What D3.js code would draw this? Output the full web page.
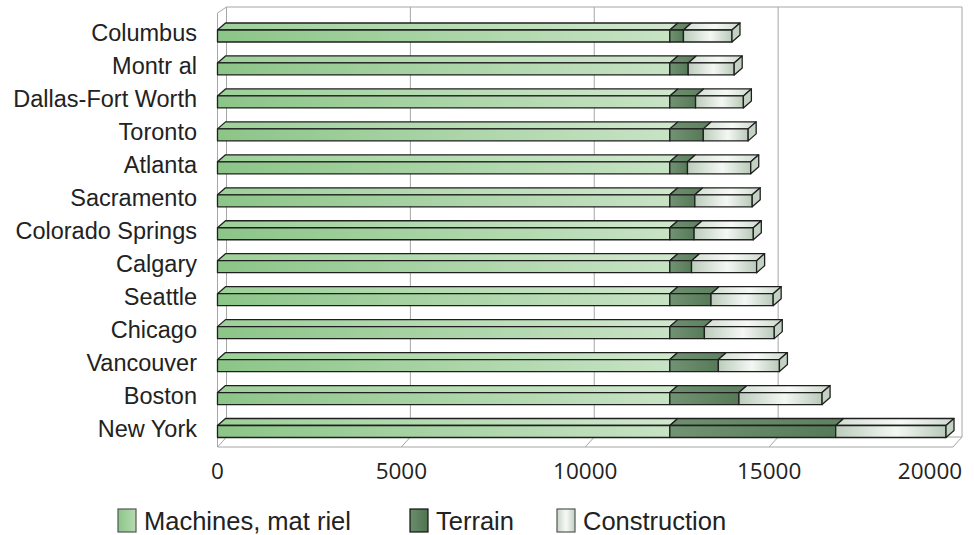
<!DOCTYPE html>
<html>
<head>
<meta charset="utf-8">
<script src="https://cdn.jsdelivr.net/npm/d3@7"></script>
<style>
  html, body { margin: 0; padding: 0; background: #fff; }
  svg { display: block; }
</style>
</head>
<body>
<svg id="chart" width="974" height="535"></svg>
<script>
// Cities, top to bottom
const categories = ["Columbus", "Montr al ", "Dallas-Fort Worth", "Toronto", "Atlanta",
  "Sacramento", "Colorado Springs", "Calgary", "Seattle", "Chicago",
  "Vancouver", "Boston", "New York"];

// Stacked components per city
const machines     = [12300, 12300, 12300, 12300, 12300, 12300, 12300, 12300, 12300, 12300, 12300, 12300, 12300];
const terrain      = [370, 500, 700, 910, 480, 680, 660, 590, 1120, 940, 1320, 1880, 4510];
const construction = [1320, 1250, 1300, 1220, 1720, 1560, 1610, 1770, 1690, 1900, 1660, 2260, 3000];

const seriesNames = ["Machines, mat riel", "Terrain", "Construction"];
const seriesKeys = ["machines", "terrain", "construction"];
const tickValues = [0, 5000, 10000, 15000, 20000];

const svg = d3.select("#chart");
const defs = svg.append("defs");

function grad(id, stops) {
  const g = defs.append("linearGradient").attr("id", id)
    .attr("x1", "0%").attr("x2", "100%").attr("y1", "0%").attr("y2", "0%");
  stops.forEach(s => g.append("stop").attr("offset", s[0]).attr("stop-color", s[1]));
}
grad("machFront", [["0%", "#8cc588"], ["100%", "#c7e3c4"]]);
grad("machTop",   [["0%", "#9dd099"], ["100%", "#d0e8cd"]]);
grad("terrFront", [["0%", "#729373"], ["100%", "#567a58"]]);
grad("terrTop",   [["0%", "#6d8f6d"], ["100%", "#5e815f"]]);
grad("consFront", [["0%", "#bccdbc"], ["55%", "#f4f7f4"], ["100%", "#b9cab9"]]);
grad("consTop",   [["0%", "#d3dfd3"], ["55%", "#f6f9f6"], ["100%", "#ccd9cc"]]);
grad("legMach",   [["0%", "#8cc588"], ["100%", "#b6dab2"]]);
grad("legTerr",   [["0%", "#6b8d6b"], ["100%", "#4f7351"]]);
grad("legCons",   [["0%", "#c6d5c6"], ["50%", "#f7faf7"], ["100%", "#c0d0c0"]]);

const fills = {
  machines:     { front: "url(#machFront)", top: "url(#machTop)", side: "#b4d9b0" },
  terrain:      { front: "url(#terrFront)", top: "url(#terrTop)", side: "#5c7f5c" },
  construction: { front: "url(#consFront)", top: "url(#consTop)", side: "#c3d2c3" }
};
const legendFills = ["url(#legMach)", "url(#legTerr)", "url(#legCons)"];

// Front-plane value scale and row positions
const x = d3.scaleLinear().domain([0, 20000]).range([217.5, 953]);
const y = d3.scalePoint().domain(categories).range([36, 431.5]);

// Depth offsets for the 3D look
const wallDX = 9, wallDY = -10;
const barDX = 8, barDY = -7;
const faceH = 12;
const floorY = 447, wallTopFront = 13;

const gridColor = "#a6a6a6";
const walls = svg.append("g").attr("fill", "none").attr("stroke", gridColor).attr("stroke-width", 1);

// back wall gridlines
tickValues.forEach(v => {
  walls.append("line")
    .attr("x1", x(v) + wallDX).attr("x2", x(v) + wallDX)
    .attr("y1", wallTopFront - 6).attr("y2", floorY + wallDY);
});
// back wall top edge
walls.append("line")
  .attr("x1", x(0) + wallDX).attr("x2", x(20000) + wallDX)
  .attr("y1", wallTopFront - 6).attr("y2", wallTopFront - 6);
// left wall
walls.append("line")
  .attr("x1", x(0)).attr("x2", x(0)).attr("y1", wallTopFront).attr("y2", floorY);
walls.append("line")
  .attr("x1", x(0)).attr("x2", x(0) + wallDX).attr("y1", wallTopFront).attr("y2", wallTopFront - 6);
// floor
walls.append("line")
  .attr("x1", x(0)).attr("x2", x(20000)).attr("y1", floorY).attr("y2", floorY);
walls.append("line")
  .attr("x1", x(0) + wallDX).attr("x2", x(20000) + wallDX)
  .attr("y1", floorY + wallDY).attr("y2", floorY + wallDY);
tickValues.forEach(v => {
  walls.append("line")
    .attr("x1", x(v)).attr("x2", x(v) + wallDX)
    .attr("y1", floorY).attr("y2", floorY + wallDY);
});

// Stacked data
const rows = categories.map((c, i) => ({
  name: c, machines: machines[i], terrain: terrain[i], construction: construction[i]
}));
const stacked = d3.stack().keys(seriesKeys)(rows);

const bars = svg.append("g").attr("stroke", "#1f1f1f").attr("stroke-width", 1.3)
  .attr("stroke-linejoin", "round");

rows.forEach((r, i) => {
  const cy = y(r.name);
  const top = cy - faceH / 2;
  const g = bars.append("g");
  stacked.forEach((layer, k) => {
    const [a, b] = layer[i];
    const x0 = x(a), x1 = x(b);
    const key = seriesKeys[k];
    // top face
    g.append("path")
      .attr("d", `M${x0},${top} L${x0 + barDX},${top + barDY} L${x1 + barDX},${top + barDY} L${x1},${top} Z`)
      .attr("fill", fills[key].top);
    // front face
    g.append("rect")
      .attr("x", x0).attr("y", top)
      .attr("width", x1 - x0).attr("height", faceH)
      .attr("fill", fills[key].front);
    // right end face on the last segment
    if (k === stacked.length - 1) {
      g.append("path")
        .attr("d", `M${x1},${top} L${x1 + barDX},${top + barDY} L${x1 + barDX},${top + barDY + faceH} L${x1},${top + faceH} Z`)
        .attr("fill", fills[key].side);
    }
  });
});

// Category labels
svg.append("g").selectAll("text").data(categories).join("text")
  .attr("x", 197)
  .attr("y", d => y(d) + 5)
  .attr("text-anchor", "end")
  .attr("font-family", "'Liberation Sans', Arial, sans-serif")
  .attr("font-size", 23.5)
  .attr("fill", "#222")
  .text(d => d);

// Value tick labels
svg.append("g").selectAll("text").data(tickValues).join("text")
  .attr("x", d => Math.min(x(d), 930))
  .attr("y", 479)
  .attr("text-anchor", "middle")
  .attr("font-family", "'Open Sans', 'DejaVu Sans', sans-serif")
  .attr("font-size", 22.5)
  .attr("fill", "#222")
  .text(d => d);

// Legend
const legendX = [118, 410, 557];
const legend = svg.append("g");
seriesNames.forEach((name, k) => {
  legend.append("rect")
    .attr("x", legendX[k]).attr("y", 509)
    .attr("width", 18).attr("height", 23)
    .attr("fill", legendFills[k])
    .attr("stroke", k === 1 ? "#111" : "#555").attr("stroke-width", 1.2);
  legend.append("text")
    .attr("x", legendX[k] + 26).attr("y", 530)
    .attr("font-family", "'Liberation Sans', Arial, sans-serif")
    .attr("font-size", 25.5)
    .attr("fill", "#222")
    .text(name);
});
</script>
</body>
</html>
